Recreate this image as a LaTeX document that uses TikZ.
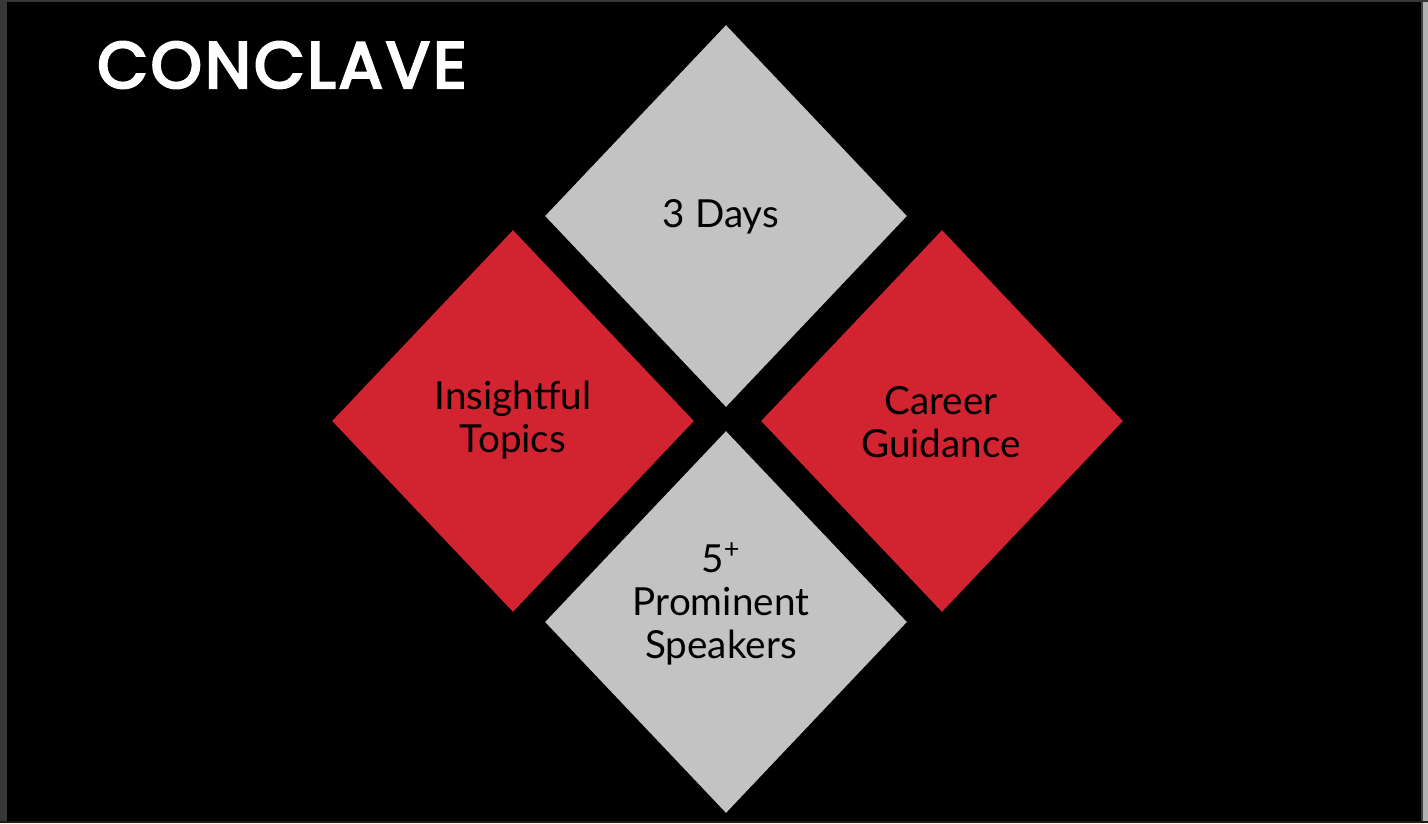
\documentclass[tikz,border=0pt]{standalone}
\usepackage{fontspec}
\setmainfont{Lato}
\newfontfamily\titlefont[FakeBold=4, LetterSpace=5]{Poppins}
\usetikzlibrary{shapes.geometric}
\definecolor{tilegray}{RGB}{195,195,195}
\definecolor{tilered}{RGB}{210,35,48}
\definecolor{edgegray}{RGB}{55,55,55}
\begin{document}
\begin{tikzpicture}[
  x=0.02cm, y=-0.02cm,
  tile/.style={diamond, inner sep=0pt, minimum width=7.24cm, minimum height=7.64cm},
  graytile/.style={tile, fill=tilegray},
  redtile/.style={tile, fill=tilered},
  lbl/.style={align=center, text=black, font=\fontsize{22}{24.5}\selectfont},
  title/.style={anchor=west, text=white, inner sep=0pt, font=\titlefont\fontsize{37}{40}\selectfont}
]
% background and frame
\fill[black] (0,0) rectangle (1428,823);
\fill[edgegray] (0,0) rectangle (7,823);
\fill[black!75] (1421,0) rectangle (1423,823);
\fill[black!30] (1423,0) rectangle (1428,823);
\fill[edgegray] (0,0) rectangle (1428,1.5);
\fill[black!80!brown] (0,820.5) rectangle (1428,823);
\useasboundingbox (0,0) rectangle (1428,823);
% tiles
\node[graytile] (days) at (726,216) {};
\node[redtile] (topics) at (513,421) {};
\node[redtile] (career) at (942,421) {};
\node[graytile] (speakers) at (726,622) {};
% labels
\node[lbl] (dayslbl) at (721,217) {3 Days};
\node[lbl] (topicslbl) at (513,420) {Insightful\\Topics};
\node[lbl] (careerlbl) at (941,422) {Career\\Guidance};
\node[lbl] (speakerslbl) at (721,604) {5\textsuperscript{+}\\Prominent\\Speakers};
\node[title] (conclave) at (97,65) {CONCLAVE};
\end{tikzpicture}
\end{document}
